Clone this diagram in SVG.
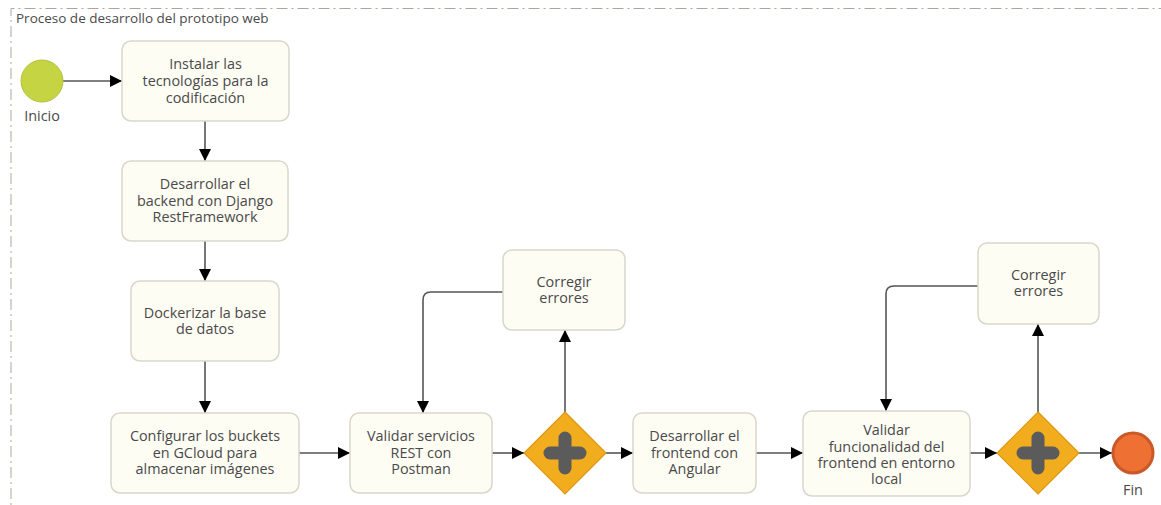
<svg xmlns="http://www.w3.org/2000/svg" width="1161" height="505" viewBox="0 0 1161 505">
  <style>
    .lbl { font-family: "Open Sans", Lato, "Liberation Sans", sans-serif; font-size: 14.4px; fill: #4a4a4a; text-anchor: middle; }
    .task { fill: #fdfdf4; stroke: #d9d7cc; stroke-width: 1.5; }
    .gw { fill: #f1ad1d; stroke: #dc9711; stroke-width: 1.2; }
    .plus { stroke: #5b5b5b; stroke-width: 13; stroke-linecap: round; fill: none; }
    .flow { fill: none; stroke: #555; stroke-width: 1.6; marker-end: url(#arrow); }
  </style>
  <defs>
    <marker id="arrow" viewBox="0 0 12 12" refX="12" refY="6" markerWidth="12" markerHeight="12" markerUnits="userSpaceOnUse" orient="auto">
      <path d="M0,0 L12,6 L0,12 Z" fill="#000"/>
    </marker>
  </defs>
  <rect width="1161" height="505" fill="#fff"/>

  <!-- pool frame -->
  <g id="pool">
    <path d="M11,520 L11,8.5 L1175,8.5" fill="none" stroke="#aaa89c" stroke-width="1" stroke-dasharray="11 4 2 4"/>
    <text x="16" y="23" class="lbl" style="text-anchor:start;font-size:13.5px">Proceso de desarrollo del prototipo web</text>
  </g>

  <!-- sequence flows -->
  <g id="connectors">
    <path class="flow" d="M63,81 L122,81"/>
    <path class="flow" d="M205,121 L205,161"/>
    <path class="flow" d="M205,241 L205,281"/>
    <path class="flow" d="M205,361 L205,413"/>
    <path class="flow" d="M299,453 L350,453"/>
    <path class="flow" d="M492,453 L524,453"/>
    <path class="flow" d="M565,412 L565,330"/>
    <path class="flow" d="M503,292 L431,292 Q423,292 423,300 L423,413"/>
    <path class="flow" d="M606,453 L633,453"/>
    <path class="flow" d="M756,453 L803,453"/>
    <path class="flow" d="M970,453 L997,453"/>
    <path class="flow" d="M1038,412 L1038,324"/>
    <path class="flow" d="M978,286 L894,286 Q886,286 886,294 L886,411"/>
    <path class="flow" d="M1079,453 L1112,453"/>
  </g>

  <g id="inicio">
    <circle cx="42" cy="81" r="21" fill="#c5d443" stroke="#b3c238" stroke-width="1"/>
    <text x="42" y="121" class="lbl">Inicio</text>
  </g>

  <g id="t1">
    <rect class="task" x="122" y="41" width="167" height="80" rx="9"/>
    <text class="lbl"><tspan x="205.5" y="69">Instalar las</tspan><tspan x="205.5" y="86">tecnologías para la</tspan><tspan x="205.5" y="103">codificación</tspan></text>
  </g>

  <g id="t2">
    <rect class="task" x="122" y="161" width="166" height="80" rx="9"/>
    <text class="lbl"><tspan x="205" y="189">Desarrollar el</tspan><tspan x="205" y="206">backend con Django</tspan><tspan x="205" y="222">RestFramework</tspan></text>
  </g>

  <g id="t3">
    <rect class="task" x="131" y="281" width="148" height="80" rx="9"/>
    <text class="lbl"><tspan x="205" y="318">Dockerizar la base</tspan><tspan x="205" y="334">de datos</tspan></text>
  </g>

  <g id="t4">
    <rect class="task" x="111" y="413" width="188" height="80" rx="9"/>
    <text class="lbl"><tspan x="205" y="441">Configurar los buckets</tspan><tspan x="205" y="458">en GCloud para</tspan><tspan x="205" y="474">almacenar imágenes</tspan></text>
  </g>

  <g id="t5">
    <rect class="task" x="350" y="413" width="142" height="80" rx="9"/>
    <text class="lbl"><tspan x="421" y="441">Validar servicios</tspan><tspan x="421" y="458">REST con</tspan><tspan x="421" y="474">Postman</tspan></text>
  </g>

  <g id="gw1">
    <path class="gw" d="M565,412 L606,453 L565,494 L524,453 Z"/>
    <path class="plus" d="M565,438 L565,468 M550,453 L580,453"/>
  </g>

  <g id="c1">
    <rect class="task" x="503" y="250" width="122" height="80" rx="9"/>
    <text class="lbl"><tspan x="564" y="287">Corregir</tspan><tspan x="564" y="303">errores</tspan></text>
  </g>

  <g id="t6">
    <rect class="task" x="633" y="413" width="123" height="80" rx="9"/>
    <text class="lbl"><tspan x="694.5" y="441">Desarrollar el</tspan><tspan x="694.5" y="458">frontend con</tspan><tspan x="694.5" y="474">Angular</tspan></text>
  </g>

  <g id="t7">
    <rect class="task" x="803" y="411" width="167" height="85" rx="9"/>
    <text class="lbl"><tspan x="886.5" y="435">Validar</tspan><tspan x="886.5" y="452">funcionalidad del</tspan><tspan x="886.5" y="468">frontend en entorno</tspan><tspan x="886.5" y="484">local</tspan></text>
  </g>

  <g id="gw2">
    <path class="gw" d="M1038,412 L1079,453 L1038,494 L997,453 Z"/>
    <path class="plus" d="M1038,438 L1038,468 M1023,453 L1053,453"/>
  </g>

  <g id="c2">
    <rect class="task" x="978" y="243" width="121" height="81" rx="9"/>
    <text class="lbl"><tspan x="1038.5" y="280">Corregir</tspan><tspan x="1038.5" y="296">errores</tspan></text>
  </g>

  <g id="fin">
    <circle cx="1133" cy="453" r="20" fill="#ef7033" stroke="#c85a2a" stroke-width="3"/>
    <text x="1133" y="495" class="lbl">Fin</text>
  </g>
</svg>
